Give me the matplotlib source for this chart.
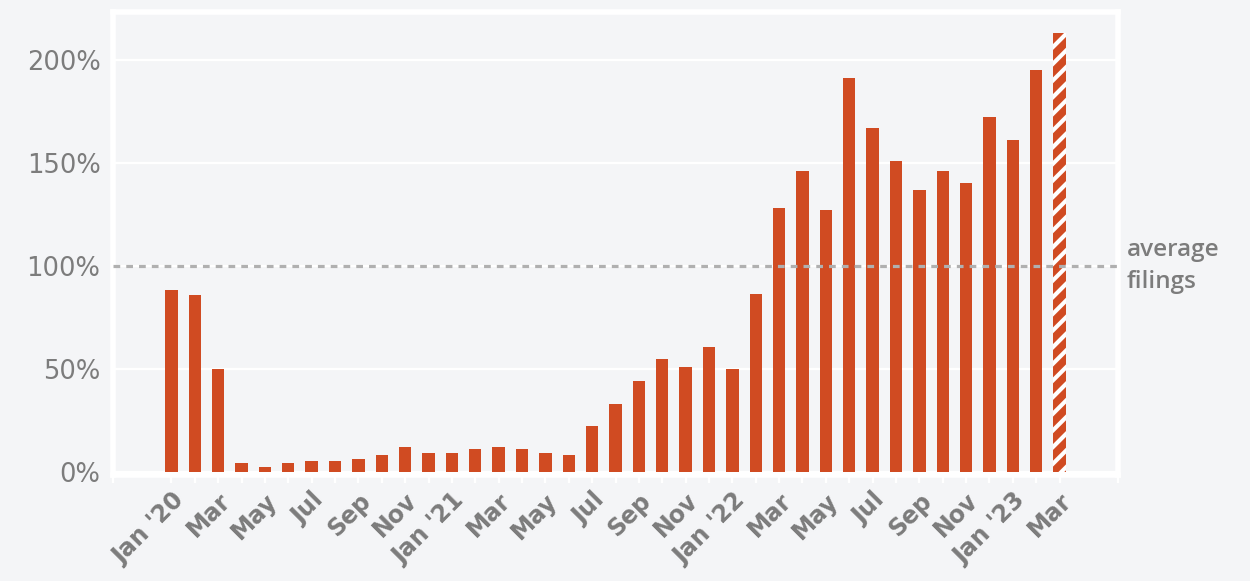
import matplotlib.pyplot as plt

months = ["Jan '20", "Feb", "Mar", "Apr", "May", "Jun", "Jul", "Aug", "Sep", "Oct", "Nov", "Dec",
          "Jan '21", "Feb", "Mar", "Apr", "May", "Jun", "Jul", "Aug", "Sep", "Oct", "Nov", "Dec",
          "Jan '22", "Feb", "Mar", "Apr", "May", "Jun", "Jul", "Aug", "Sep", "Oct", "Nov", "Dec",
          "Jan '23", "Feb", "Mar"]
filings = [88, 86, 50, 4, 2, 4, 5, 5, 6, 8, 12, 9,
           9, 11, 12, 11, 9, 8, 22, 33, 44, 54.5, 51, 60.5,
           50, 86.5, 128, 146, 127, 191, 167, 151, 137, 146, 140, 172,
           161, 195, 213]
average = 100
yticks = [0, 50, 100, 150, 200]

bg = "#f4f5f7"
orange = "#d04b22"
grey = "#7c7c7c"

plt.rcParams["hatch.linewidth"] = 3.0

fig = plt.figure(figsize=(12.5, 5.81), dpi=100, facecolor=bg)
ax = fig.add_axes([0.0904, 0.183, 0.804, 0.7955], facecolor=bg)

x = list(range(len(filings)))
# last month is partial, drawn hatched
ax.bar(x[:-1], filings[:-1], width=0.53, color=orange, zorder=2)
ax.bar(x[-1:], filings[-1:], width=0.53, color=orange, edgecolor="white",
       linewidth=0, hatch="//", zorder=2)

ax.set_xlim(-2.5, len(filings) + 1.5)
ax.set_ylim(-1.5, 223)

ax.set_yticks(yticks)
ax.set_yticklabels([f"{v}%" for v in yticks])
ax.yaxis.grid(True, color="white", linewidth=1.6, zorder=0)
ax.set_axisbelow(True)

avg_line = ax.axhline(average, color="#b0b0b0", linewidth=2.3, zorder=3)
avg_line.set_dashes((2.1, 1.9))
ax.text(1.009, average, "average\nfilings", transform=ax.get_yaxis_transform(),
        ha="left", va="center", fontsize=17.5, color=grey, family="Open Sans",
        fontweight="semibold", linespacing=1.45)

ax.set_xticks(x)
ax.set_xticklabels([m if i % 2 == 0 else "" for i, m in enumerate(months)],
                   rotation=45, ha="right", rotation_mode="anchor",
                   fontsize=17, fontweight="bold", color=grey, family="DejaVu Sans")
ax.set_xticks([-2.5, len(filings) + 1.5], minor=True)
ax.tick_params(axis="x", which="both", colors="white", length=6, width=1.6,
               labelcolor=grey, pad=4)
ax.tick_params(axis="y", length=0, labelsize=18.5, labelcolor=grey, pad=9)

for s in ax.spines.values():
    s.set_color("white")
    s.set_linewidth(4)

plt.savefig("out.png", dpi=100, facecolor=bg)
